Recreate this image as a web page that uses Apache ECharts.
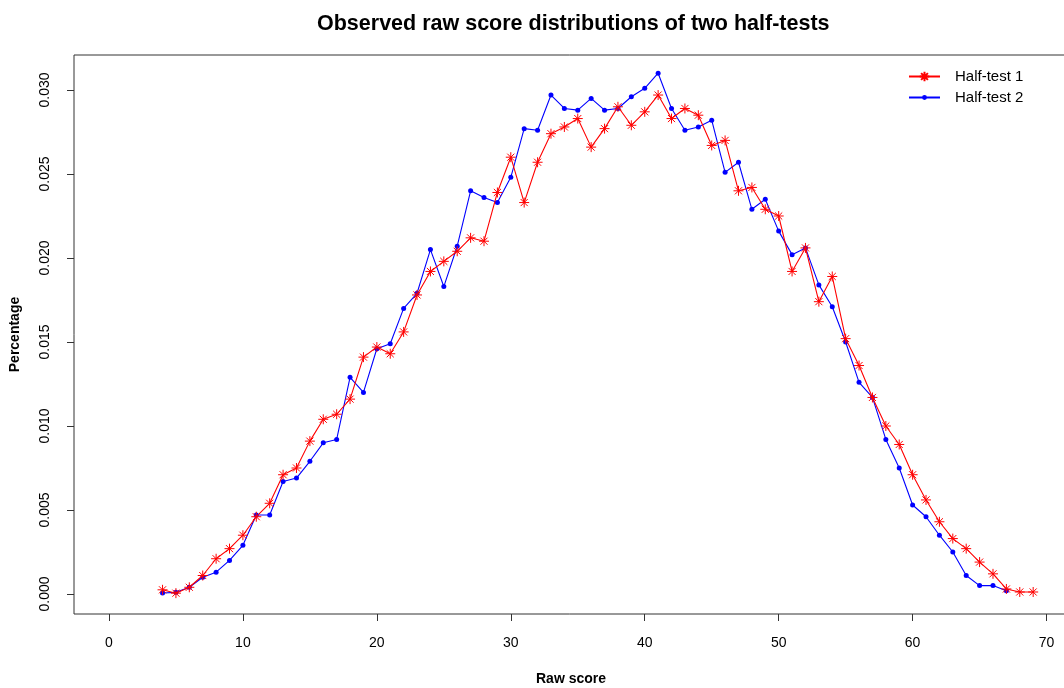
<!DOCTYPE html>
<html>
<head>
<meta charset="utf-8">
<script src="https://cdn.jsdelivr.net/npm/echarts@6/dist/echarts.min.js"></script>
<style>
html,body{margin:0;padding:0;background:#fff;}
#chart{width:1064px;height:688px;}
</style>
</head>
<body>
<div id="chart"></div>
<script>
// Raw scores
var scores1 = [4,5,6,7,8,9,10,11,12,13,14,15,16,17,18,19,20,21,22,23,24,25,26,27,28,29,30,31,32,33,34,35,36,37,38,39,40,41,42,43,44,45,46,47,48,49,50,51,52,53,54,55,56,57,58,59,60,61,62,63,64,65,66,67,68,69];
var half1 = [0.00025,0.00005,0.0004,0.0011,0.0021,0.0027,0.0035,0.0046,0.0054,0.0071,0.0075,0.0091,0.0104,0.0107,0.0116,0.0141,0.0147,0.0143,0.0156,0.0178,0.0192,0.0198,0.0204,0.0212,0.0210,0.0239,0.0260,0.0233,0.0257,0.0274,0.0278,0.0283,0.0266,0.0277,0.0290,0.0279,0.0287,0.0297,0.0283,0.0289,0.0285,0.0267,0.0270,0.0240,0.0242,0.0229,0.0225,0.0192,0.0206,0.0174,0.0189,0.0152,0.0136,0.0117,0.0100,0.0089,0.0071,0.0056,0.0043,0.0033,0.0027,0.0019,0.0012,0.0003,0.00012,0.00012];
var scores2 = [4,5,6,7,8,9,10,11,12,13,14,15,16,17,18,19,20,21,22,23,24,25,26,27,28,29,30,31,32,33,34,35,36,37,38,39,40,41,42,43,44,45,46,47,48,49,50,51,52,53,54,55,56,57,58,59,60,61,62,63,64,65,66,67];
var half2 = [0.00006,0.0001,0.0004,0.0010,0.0013,0.0020,0.0029,0.0047,0.0047,0.0067,0.0069,0.0079,0.0090,0.0092,0.0129,0.0120,0.0146,0.0149,0.0170,0.0179,0.0205,0.0183,0.0207,0.0240,0.0236,0.0233,0.0248,0.0277,0.0276,0.0297,0.0289,0.0288,0.0295,0.0288,0.0289,0.0296,0.0301,0.0310,0.0289,0.0276,0.0278,0.0282,0.0251,0.0257,0.0229,0.0235,0.0216,0.0202,0.0206,0.0184,0.0171,0.0150,0.0126,0.0117,0.0092,0.0075,0.0053,0.0046,0.0035,0.0025,0.0011,0.0005,0.0005,0.0002];
var xTicks = [0,10,20,30,40,50,60,70];
var yTicks = [0,0.005,0.010,0.015,0.020,0.025,0.030];
var seriesNames = ['Half-test 1','Half-test 2'];
var titleText = 'Observed raw score distributions of two half-tests';
var xName = 'Raw score';
var yName = 'Percentage';

function pairs(xs, ys){ return xs.map(function(x,i){ return [x, ys[i]]; }); }

var FONT = 'Liberation Sans, Arial, sans-serif';
var starPath = 'path://M5,0L5,10M0,5L10,5M1.46,1.46L8.54,8.54M8.54,1.46L1.46,8.54';
var legendText = {fontFamily:FONT, fontSize:15, color:'#000', padding:[0,0,0,10]};

var chart = echarts.init(document.getElementById('chart'), null, {renderer:'canvas'});
chart.setOption({
  backgroundColor:'#ffffff',
  animation:false,
  title:{
    text:titleText, left:312, top:8,
    textStyle:{fontFamily:FONT, fontSize:21.5, fontWeight:'bold', color:'#000'}
  },
  legend:[
    {
      orient:'vertical', left:908, top:69, padding:0, itemWidth:31, itemHeight:12,
      data:[seriesNames[0]], textStyle:legendText
    },
    {
      orient:'vertical', left:908, top:90, padding:0, itemWidth:31, itemHeight:6,
      data:[seriesNames[1]], textStyle:legendText
    }
  ],
  grid:{
    left:74, right:-4, top:55, bottom:74, show:true,
    outerBoundsMode:'none', containLabel:false,
    borderColor:'#333', borderWidth:1, backgroundColor:'transparent'
  },
  xAxis:{
    type:'value', min:-2.61, max:71.6,
    name:xName, nameLocation:'middle', nameGap:58,
    nameTextStyle:{fontFamily:FONT, fontSize:14, fontWeight:'bold', color:'#000'},
    axisLine:{show:false, onZero:false},
    axisTick:{show:true, inside:false, length:7, lineStyle:{color:'#333'}, customValues:xTicks},
    axisLabel:{fontFamily:FONT, fontSize:14, color:'#000', margin:22, customValues:xTicks},
    splitLine:{show:false}
  },
  yAxis:{
    type:'value', min:-0.00119, max:0.032083,
    name:yName, nameLocation:'middle', nameGap:52,
    nameTextStyle:{fontFamily:FONT, fontSize:14, fontWeight:'bold', color:'#000'},
    axisLine:{show:false, onZero:false},
    axisTick:{show:true, inside:false, length:7, lineStyle:{color:'#333'}, customValues:yTicks},
    axisLabel:{fontFamily:FONT, fontSize:14, color:'#000', margin:22, rotate:90,
      customValues:yTicks, formatter:function(v){ return v.toFixed(3); }},
    splitLine:{show:false}
  },
  series:[
    {
      name:seriesNames[0], type:'line', data:pairs(scores1, half1),
      symbol:starPath, symbolSize:10,
      lineStyle:{color:'#ff0000', width:1.1},
      itemStyle:{color:'#ff0000', borderColor:'#ff0000', borderWidth:1},
      z:3
    },
    {
      name:seriesNames[1], type:'line', data:pairs(scores2, half2),
      symbol:'circle', symbolSize:5,
      lineStyle:{color:'#0000ff', width:1.1},
      itemStyle:{color:'#0000ff', borderWidth:0},
      z:2
    }
  ]
});
</script>
</body>
</html>
